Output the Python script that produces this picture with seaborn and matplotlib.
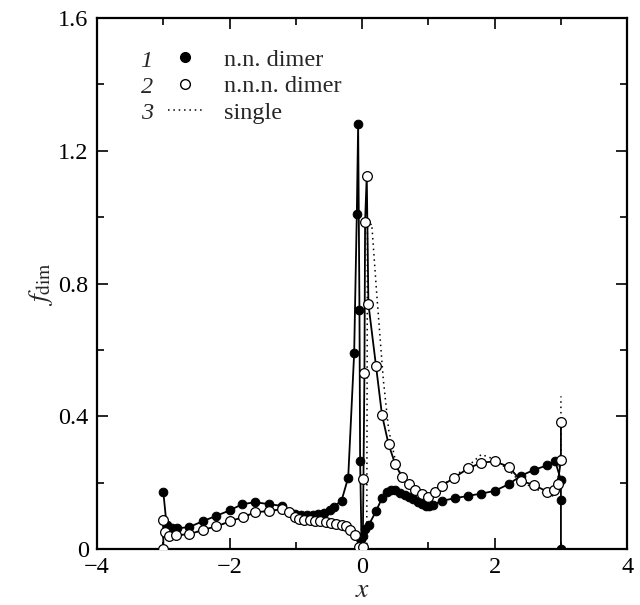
import matplotlib
matplotlib.use("Agg")
import matplotlib.pyplot as plt
from matplotlib.lines import Line2D
from matplotlib.ticker import MultipleLocator
import seaborn as sns

# n.n. dimer (filled circles)
nn_x = [-3.00, -2.95, -2.87, -2.80, -2.61, -2.40, -2.20, -2.00, -1.81, -1.61,
        -1.41, -1.21, -1.01, -0.92, -0.83, -0.74, -0.66, -0.57, -0.49, -0.42,
        -0.31, -0.21, -0.12, -0.08, -0.06, -0.04, -0.03, -0.01, 0.01, 0.045,
        0.10, 0.21, 0.30, 0.37, 0.44, 0.50, 0.57, 0.64, 0.70, 0.77, 0.84, 0.90,
        0.96, 1.01, 1.07, 1.20, 1.40, 1.60, 1.80, 2.00, 2.21, 2.40, 2.59, 2.79,
        2.91, 3.00, 3.00, 3.00]
nn_y = [0.172, 0.072, 0.063, 0.062, 0.066, 0.084, 0.100, 0.116, 0.135, 0.141,
        0.135, 0.130, 0.106, 0.102, 0.101, 0.102, 0.105, 0.109, 0.117, 0.128,
        0.146, 0.215, 0.590, 1.010, 1.280, 0.720, 0.265, 0.030, 0.040, 0.060,
        0.072, 0.114, 0.153, 0.172, 0.178, 0.177, 0.170, 0.163, 0.158, 0.150,
        0.142, 0.136, 0.131, 0.130, 0.133, 0.145, 0.153, 0.160, 0.167, 0.175,
        0.195, 0.221, 0.238, 0.252, 0.266, 0.208, 0.148, 0.0]

# n.n.n. dimer (open circles)
nnn_x = [-3.00, -3.00, -2.97, -2.91, -2.81, -2.61, -2.40, -2.20, -2.00, -1.80,
         -1.61, -1.41, -1.21, -1.10, -1.02, -0.95, -0.87, -0.79, -0.71, -0.63,
         -0.55, -0.47, -0.39, -0.31, -0.24, -0.18, -0.11, -0.04, 0.01, 0.02,
         0.035, 0.045, 0.07, 0.095, 0.21, 0.30, 0.40, 0.50, 0.60, 0.70, 0.80,
         0.90, 1.00, 1.10, 1.20, 1.39, 1.60, 1.80, 2.00, 2.21, 2.40, 2.59, 2.79,
         2.89, 2.95, 3.00, 3.00]
nnn_y = [0.0, 0.088, 0.052, 0.039, 0.042, 0.044, 0.058, 0.068, 0.083, 0.096,
         0.111, 0.114, 0.120, 0.112, 0.095, 0.090, 0.087, 0.086, 0.084, 0.083,
         0.081, 0.079, 0.076, 0.073, 0.068, 0.057, 0.042, 0.007, 0.005, 0.210,
         0.530, 0.986, 1.125, 0.738, 0.551, 0.404, 0.315, 0.255, 0.218, 0.195,
         0.178, 0.165, 0.158, 0.173, 0.190, 0.215, 0.243, 0.260, 0.264, 0.248,
         0.205, 0.193, 0.173, 0.178, 0.196, 0.268, 0.384]

# single (dotted)
single_x = [-3.00, -3.00, -2.95, -2.80, -2.40, -2.00, -1.60, -1.40, -1.20, -1.00,
            -0.60, -0.30, -0.10, 0.00, 0.07, 0.08, 0.145, 0.22, 0.32, 0.40,
            0.52, 0.65, 0.80, 1.00, 1.20, 1.40, 1.60, 1.80, 2.00, 2.20, 2.40,
            2.60, 2.80, 2.90, 2.95, 3.00, 3.00]
single_y = [0.0, 0.090, 0.050, 0.040, 0.055, 0.082, 0.110, 0.115, 0.118, 0.095,
            0.083, 0.073, 0.040, 0.0, 0.0, 0.970, 0.980, 0.770, 0.510, 0.360,
            0.250, 0.200, 0.175, 0.155, 0.190, 0.220, 0.250, 0.285, 0.270, 0.240,
            0.200, 0.185, 0.160, 0.160, 0.200, 0.300, 0.460]

labels = ["n.n. dimer", "n.n.n. dimer", "single"]
numbers = ["1", "2", "3"]

sns.set_theme(style="ticks")
plt.rcParams["font.family"] = ["Liberation Serif", "DejaVu Serif"]
plt.rcParams["mathtext.fontset"] = "stix"

fig = plt.figure(figsize=(6.4, 6.05), dpi=100)
ax = fig.add_axes([0.1516, 0.0926, 0.8284, 0.8776])

sns.lineplot(x=single_x, y=single_y, sort=False, estimator=None, ax=ax,
             color="black", linestyle=(0, (1, 2.5)), linewidth=1.1, zorder=1)
sns.lineplot(x=nn_x, y=nn_y, sort=False, estimator=None, ax=ax,
             color="black", linewidth=1.3, marker="o", markersize=6.2,
             markerfacecolor="black", markeredgecolor="black", zorder=2)
sns.lineplot(x=nnn_x, y=nnn_y, sort=False, estimator=None, ax=ax,
             color="black", linewidth=1.3, marker="o", markersize=7,
             markerfacecolor="white", markeredgecolor="black",
             markeredgewidth=0.9, zorder=3)

ax.set_xlim(-4, 4)
ax.set_ylim(0, 1.6)
ax.xaxis.set_major_locator(MultipleLocator(2))
ax.xaxis.set_minor_locator(MultipleLocator(1))
ax.yaxis.set_major_locator(MultipleLocator(0.4))
ax.yaxis.set_minor_locator(MultipleLocator(0.2))
ax.set_yticks([0, 0.4, 0.8, 1.2, 1.6])
ax.set_yticklabels(["0", "0.4", "0.8", "1.2", "1.6"])
ax.tick_params(which="both", direction="in", top=True, right=True,
               width=1.2, labelsize=17.5, colors="black", pad=6)
ax.tick_params(which="major", length=8)
ax.tick_params(which="minor", length=5)
for s in ax.spines.values():
    s.set_linewidth(1.6)
    s.set_color("black")

ax.set_xlabel("$x$", fontsize=20, labelpad=0)
ax.set_ylabel(r"$f_{\mathrm{dim}}$", fontsize=20, labelpad=2)

handles = [
    Line2D([], [], color="none", marker="o", markersize=7,
           markerfacecolor="black", markeredgecolor="black"),
    Line2D([], [], color="none", marker="o", markersize=7,
           markerfacecolor="white", markeredgecolor="black"),
    Line2D([], [], color="black", linestyle=(0, (1, 2.5)), linewidth=1.1),
]
leg = ax.legend(handles, labels, loc="upper left", bbox_to_anchor=(0.115, 0.96),
                frameon=False, fontsize=17.5, handlelength=1.4, handletextpad=0.9,
                labelspacing=0.18, borderaxespad=0)
for i, n in enumerate(numbers):
    ax.text(0.105, 0.918 - i * 0.049, n, transform=ax.transAxes, fontsize=17.5,
            style="italic", ha="right", va="center")

fig.savefig("out.png", dpi=100)
